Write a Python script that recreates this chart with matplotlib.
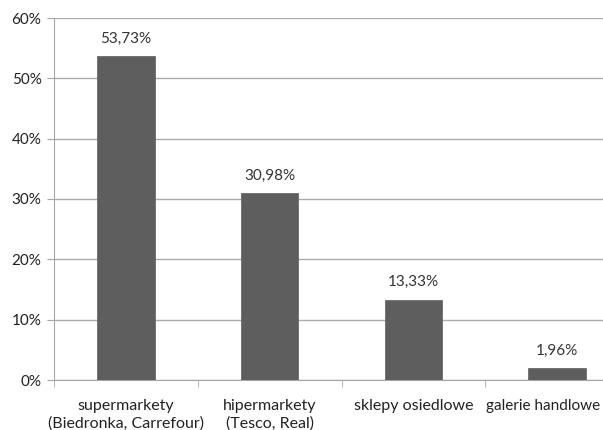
import matplotlib
matplotlib.use("Agg")
import matplotlib.pyplot as plt
from matplotlib.ticker import MultipleLocator, FuncFormatter, FixedLocator
from matplotlib.transforms import ScaledTranslation

categories = ["supermarkety\n(Biedronka, Carrefour)", "hipermarkety\n(Tesco, Real)",
              "sklepy osiedlowe", "galerie handlowe"]
values = [53.73, 30.98, 13.33, 1.96]
labels = ["53,73%", "30,98%", "13,33%", "1,96%"]

plt.rcParams['font.family'] = ['Lato', 'DejaVu Sans']
fig = plt.figure(figsize=(6.03, 4.30), dpi=100)
ax = fig.add_axes([54/603, 1-380/430, 575/603, 362/430])

x = list(range(len(categories)))
ax.bar(x, values, width=0.40, color='#5e5e5e', edgecolor='#6a6a6a', linewidth=0.6, zorder=3)
for xi, v, lab in zip(x, values, labels):
    ax.text(xi, v + 1.7, lab, ha='center', va='bottom', fontsize=11, color='#333333')

ax.set_xlim(-0.5, len(categories) - 0.5)
ax.set_ylim(0, 60)
ax.yaxis.set_major_locator(MultipleLocator(10))
ax.yaxis.set_major_formatter(FuncFormatter(lambda v, p: f"{int(v)}%"))
ax.grid(axis='y', color='#ababab', linewidth=1.0, zorder=0)
ax.set_xticks(x)
ax.set_xticklabels(categories, fontsize=11.5, color='#222222', linespacing=1.25)
ax.xaxis.set_minor_locator(FixedLocator([i + 0.5 for i in range(len(categories) - 1)] + [-0.5]))
ax.tick_params(axis='x', which='major', length=0, pad=14)
ax.tick_params(axis='x', which='minor', length=5, color='#a6a6a6')
ax.tick_params(axis='y', length=5, color='#a6a6a6', labelsize=11, labelcolor='#222222', pad=4)
for s in ['top', 'right']:
    ax.spines[s].set_visible(False)
ax.spines['left'].set_color('#a6a6a6')
ax.spines['bottom'].set_color('#a6a6a6')

# keep the last category label inside the canvas
last = ax.get_xticklabels()[-1]
last.set_fontsize(11)
last.set_transform(last.get_transform() + ScaledTranslation(-14/100, 0, fig.dpi_scale_trans))

fig.savefig("out.png", dpi=100)
